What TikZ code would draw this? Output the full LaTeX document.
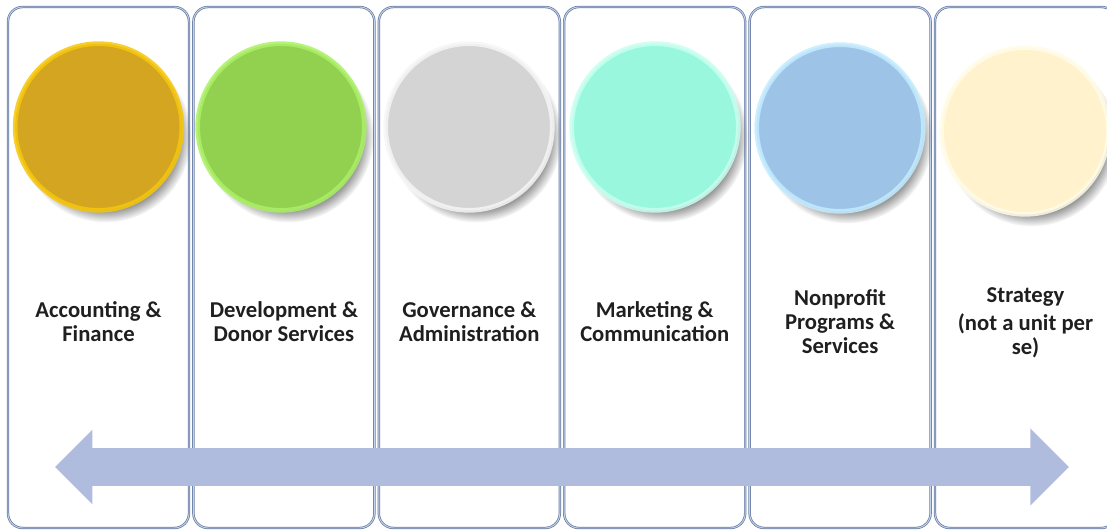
\documentclass[tikz,border=0pt]{standalone}
\usepackage{fontspec}
\setmainfont{Carlito}
\usetikzlibrary{arrows.meta, shadows, positioning}
\definecolor{laneedge}{RGB}{104, 124, 162}
\definecolor{laneglow}{RGB}{196, 210, 234}
\definecolor{spanblue}{RGB}{176, 188, 222}
\definecolor{gold1}{RGB}{212, 165, 32}
\definecolor{gold2}{RGB}{245, 198, 10}
\definecolor{leaf1}{RGB}{146, 208, 80}
\definecolor{leaf2}{RGB}{170, 240, 100}
\definecolor{stone1}{RGB}{212, 212, 212}
\definecolor{stone2}{RGB}{246, 246, 246}
\definecolor{mint1}{RGB}{153, 247, 222}
\definecolor{mint2}{RGB}{200, 255, 240}
\definecolor{sky1}{RGB}{157, 195, 230}
\definecolor{sky2}{RGB}{195, 235, 255}
\definecolor{cream1}{RGB}{255, 242, 204}
\definecolor{cream2}{RGB}{255, 252, 232}

\begin{document}
\begin{tikzpicture}[
  x=0.75pt, y=-0.75pt,
  lane/.style={draw=laneedge, double=laneglow, double distance=0.7pt, line width=0.55pt,
    rounded corners=11pt, minimum width=135.75pt, minimum height=390.75pt, inner sep=0pt},
  orb/.style 2 args={circle, fill=#1, draw=#2, draw opacity=0.85, line width=3.5pt,
    minimum size=125pt, inner sep=0pt,
    circular drop shadow={shadow xshift=5pt, shadow yshift=-7pt, shadow scale=1.03, opacity=0.85}},
  caption/.style={font=\bfseries\fontsize{17}{18}\selectfont, align=center, text=black!88},
]
  \useasboundingbox (0,0) rectangle (1107,531);

  % six columns
  \node[lane] (lane1) at (98.5, 267.5) {};
  \node[lane] (lane2) at (283.9, 267.5) {};
  \node[lane] (lane3) at (469.3, 267.5) {};
  \node[lane] (lane4) at (654.7, 267.5) {};
  \node[lane] (lane5) at (840.1, 267.5) {};
  \node[lane] (lane6) at (1025.5, 267.5) {};

  % coloured discs
  \node[orb={gold1}{gold2}] (orb1) at (98.5, 127) {};
  \node[orb={leaf1}{leaf2}] (orb2) at (281, 127) {};
  \node[orb={stone1}{stone2}] (orb3) at (469, 127) {};
  \node[orb={mint1}{mint2}] (orb4) at (655, 127) {};
  \node[orb={sky1}{sky2}] (orb5) at (840, 128) {};
  \node[orb={cream1}{cream2}] (orb6) at (1025, 131) {};

  % unit names
  \node[caption] (unit1) at (98.5, 322) {Accounting \&\\Finance};
  \node[caption] (unit2) at (283.9, 322) {Development \&\\Donor Services};
  \node[caption] (unit3) at (469.3, 322) {Governance \&\\Administration};
  \node[caption] (unit4) at (654.7, 322) {Marketing \&\\Communication};
  \node[caption] (unit5) at (840.1, 322) {Nonprofit\\Programs \&\\Services};
  \node[caption] (unit6) at (1025.5, 323) {Strategy\\[3pt](not a unit per\\se)};

  % span arrow across all units
  \coordinate (spanW) at (55, 467);
  \coordinate (spanE) at (1069, 467);
  \draw[spanblue, line width=28.5pt,
    {Triangle[length=28pt, width=54pt]}-{Triangle[length=29pt, width=56pt]}] (spanW) -- (spanE);
\end{tikzpicture}
\end{document}
